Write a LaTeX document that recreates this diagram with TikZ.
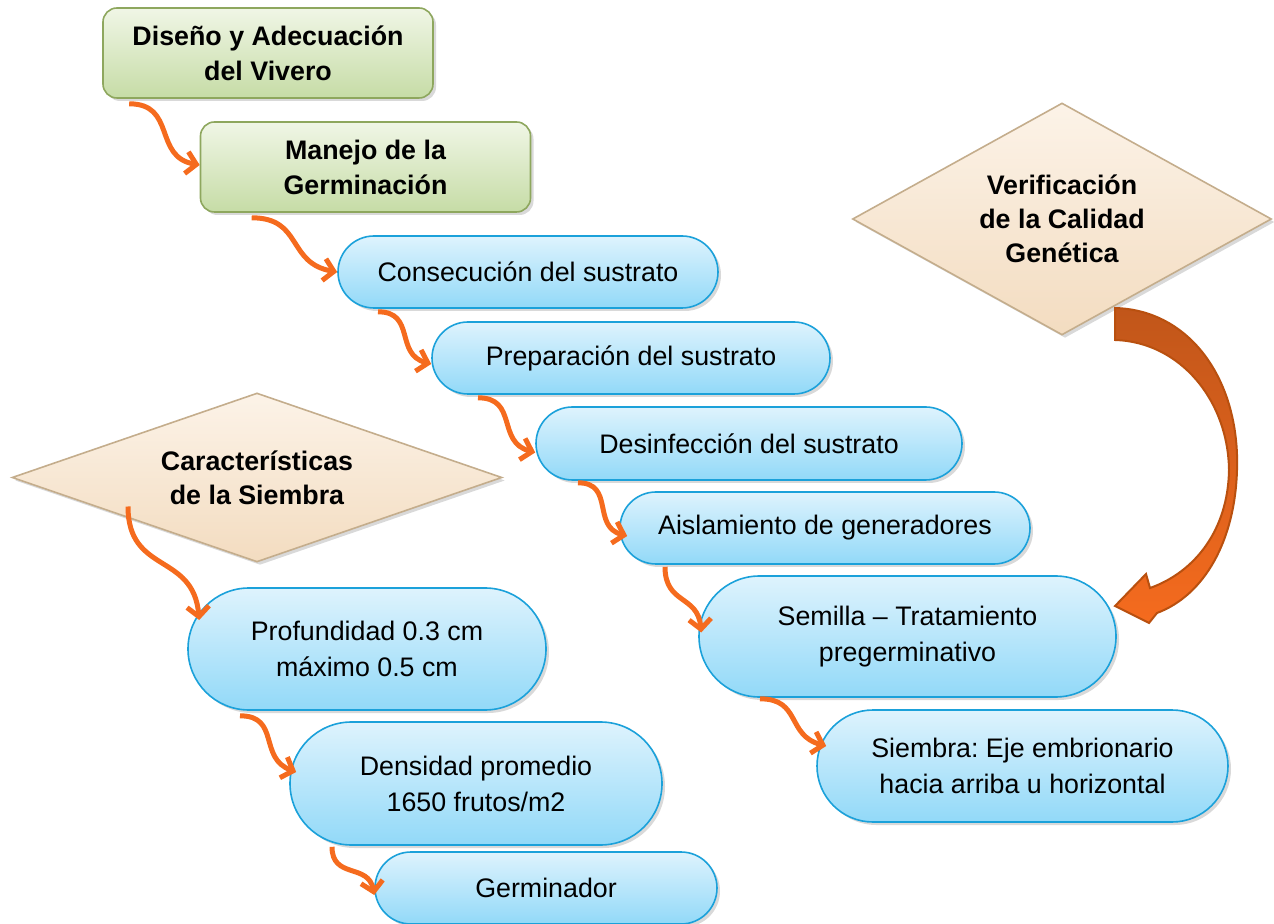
\documentclass[tikz,border=0pt]{standalone}
\usepackage{fontspec}
\setmainfont{Liberation Sans}
\usetikzlibrary{shapes.geometric,shapes.misc,arrows.meta,shadows}

\definecolor{verdeborde}{HTML}{8EA75E}
\definecolor{verdearriba}{HTML}{F0F6E6}
\definecolor{verdeabajo}{HTML}{C6DCA6}
\definecolor{azulborde}{HTML}{1BA1DA}
\definecolor{azularriba}{HTML}{DEF3FD}
\definecolor{azulabajo}{HTML}{92D9F8}
\definecolor{arenaborde}{HTML}{C4AD8C}
\definecolor{arenaarriba}{HTML}{FCF3E8}
\definecolor{arenaabajo}{HTML}{F3DCC0}
\definecolor{naranja}{HTML}{F56B1E}
\definecolor{ladrillo}{HTML}{C1561A}
\definecolor{ladrilloborde}{HTML}{B9500F}

\begin{document}
\frenchspacing
\begin{tikzpicture}[x=0.5pt,y=0.5pt]
  \tikzset{
    sombra/.style={drop shadow={opacity=.3,shadow xshift=1.5pt,shadow yshift=-1.5pt}},
    etapa/.style={rectangle,rounded corners=7pt,draw=verdeborde,line width=.8pt,
      top color=verdearriba,bottom color=verdeabajo,sombra,
      font=\bfseries\fontsize{13.4}{17.5}\selectfont,align=center,
      minimum width=165pt,minimum height=45pt},
    paso/.style={rounded rectangle,draw=azulborde,line width=.8pt,
      top color=azularriba,bottom color=azulabajo,sombra,
      font=\fontsize{13.4}{18}\selectfont,align=center,inner sep=0pt},
    criterio/.style={diamond,draw=arenaborde,line width=.8pt,
      top color=arenaarriba,bottom color=arenaabajo,sombra,
      font=\bfseries\fontsize{13.4}{17}\selectfont,align=center,inner sep=0pt},
    flecha/.style={draw=naranja,line width=2.5pt,looseness=1.3,
      -{Straight Barb[length=5pt,width=11pt]}} % Orange wiggly connector
  }
  \useasboundingbox (0,0) rectangle (1274,-924);

  % Green stages
  \node[etapa] (diseno) at (268,-53) {Diseño y Adecuación\\del Vivero};
  \node[etapa] (manejo) at (365.5,-167) {Manejo de la\\Germinación};

  % Blue steps, main column
  \node[paso,minimum width=190pt,minimum height=36pt] (consecucion) at (528,-272) {Consecución del sustrato};
  \node[paso,minimum width=199pt,minimum height=36pt] (preparacion) at (631,-358) {Preparación del sustrato};
  \node[paso,minimum width=213pt,minimum height=36.5pt] (desinfeccion) at (749,-443.5) {Desinfección del sustrato};
  \node[paso,minimum width=205pt,minimum height=36pt] (aislamiento) at (825,-528) {Aislamiento de generadores};
  \node[paso,minimum width=208.5pt,minimum height=60.5pt] (semilla) at (907.5,-636.5) {Semilla – Tratamiento\\pregerminativo};
  \node[paso,minimum width=205.5pt,minimum height=56pt] (siembra) at (1022.5,-766) {Siembra: Eje embrionario\\hacia arriba u horizontal};

  % Diamonds
  \node[criterio,aspect=1.8,minimum width=209.5pt,minimum height=116pt] (verificacion) at (1062,-219) {Verificación\\de la Calidad\\Genética};
  \node[criterio,aspect=2.9,minimum width=245pt,minimum height=84.5pt] (caracteristicas) at (257,-477.5) {Características\\de la Siembra};

  % Blue steps, left column
  \node[paso,minimum width=179pt,minimum height=61pt] (profundidad) at (367,-649) {Profundidad 0.3 cm\\máximo 0.5 cm};
  \node[paso,minimum width=186pt,minimum height=61.5pt] (densidad) at (476,-783.5) {Densidad promedio\\1650 frutos/m2};
  \node[paso,minimum width=171pt,minimum height=36pt] (germinador) at (546,-888) {Germinador};

  % Connectors
  \draw[flecha] ([xshift=13.5pt,yshift=-2.5pt]diseno.south west) to[out=0,in=170] ([yshift=1pt]manejo.west);
  \draw[flecha] ([xshift=26pt,yshift=-2.5pt]manejo.south west) to[out=0,in=170] (consecucion.west);
  \draw[flecha] ([xshift=-75pt,yshift=-1.5pt]consecucion.south) to[out=0,in=165] ([yshift=-3pt]preparacion.west);
  \draw[flecha] ([xshift=-76.5pt,yshift=-1.5pt]preparacion.south) to[out=0,in=165] ([yshift=-4.5pt]desinfeccion.west);
  \draw[flecha] ([xshift=-85.5pt,yshift=-1pt]desinfeccion.south) to[out=0,in=165] ([xshift=4pt,yshift=-4pt]aislamiento.west);
  \draw[flecha] ([xshift=-80pt,yshift=-1pt]aislamiento.south) to[out=-90,in=95] ([xshift=1.5pt,yshift=2pt]semilla.west);
  \draw[flecha] ([xshift=-73.75pt,yshift=-0.5pt]semilla.south) to[out=0,in=165] ([xshift=5pt,yshift=10pt]siembra.west);
  \draw[flecha] ([xshift=-64.5pt,yshift=-14.5pt]caracteristicas.center) to[out=-90,in=95] ([xshift=6pt,yshift=14.5pt]profundidad.west);
  \draw[flecha] ([xshift=-63.5pt,yshift=-2.5pt]profundidad.south) to[out=0,in=160] ([xshift=3.5pt,yshift=5.75pt]densidad.west);
  \draw[flecha] ([xshift=-72pt,yshift=-0.5pt]densidad.south) to[out=-90,in=100] ([yshift=-3.5pt]germinador.west);

  % Big curved arrow from the top diamond
  \path[top color=ladrillo,bottom color=naranja,draw=ladrilloborde,line width=1pt]
    (1115,-308) .. controls (1190,-310) and (1240,-380) .. (1237,-470)
    .. controls (1235,-540) and (1205,-595) .. (1157,-613)
    -- (1149,-623) -- (1115,-606) -- (1146,-574) -- (1150,-588)
    .. controls (1195,-572) and (1228,-530) .. (1229,-470)
    .. controls (1228,-400) and (1180,-342) .. (1115,-340) -- cycle;
\end{tikzpicture}
\end{document}
